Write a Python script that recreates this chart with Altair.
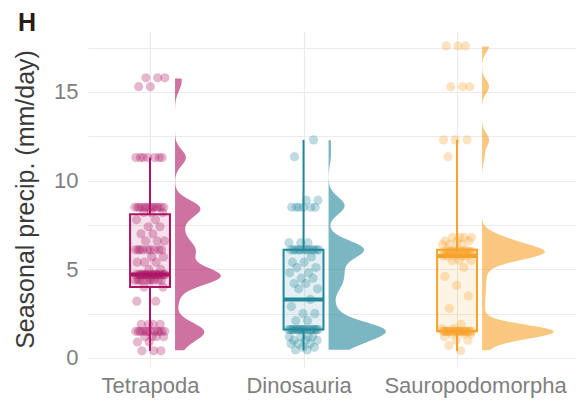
import altair as alt
import pandas as pd

# ---------------- data ----------------
categories = ["Tetrapoda", "Dinosauria", "Sauropodomorpha"]
colors = ["#AD1464", "#23879A", "#F7A22B"]

tetrapoda_levels = [0.4, 0.9, 1.2, 1.5, 1.9, 3.2, 4.0, 4.4, 4.7, 5.0, 5.4, 5.7, 6.1,
                    6.6, 7.0, 7.4, 7.8, 8.2, 8.5, 11.3, 15.3, 15.8]
tetrapoda_counts = [3, 2, 4, 12, 4, 2, 2, 10, 18, 2, 3, 2, 9,
                    3, 2, 2, 2, 3, 13, 7, 2, 3]

dinosauria_levels = [0.45, 0.6, 0.8, 1.0, 1.2, 1.6, 2.1, 2.5, 2.9, 3.3, 3.9, 4.2,
                     4.5, 4.8, 5.1, 5.4, 5.7, 6.1, 6.5, 8.5, 8.9, 11.35, 12.3]
dinosauria_counts = [2, 2, 3, 3, 4, 20, 2, 2, 1, 1, 2, 2,
                     2, 2, 2, 2, 1, 13, 3, 6, 2, 1, 1]

sauropodomorpha_levels = [0.4, 0.7, 1.0, 1.2, 1.35, 1.5, 1.65, 1.9, 2.8, 3.5, 4.1, 4.6,
                          5.1, 5.5, 5.75, 5.9, 6.0, 6.1, 6.4, 6.6, 6.8, 11.35, 12.3,
                          15.3, 17.6]
sauropodomorpha_counts = [1, 1, 2, 1, 3, 24, 2, 1, 1, 1, 1, 1,
                          1, 3, 5, 4, 11, 4, 3, 3, 4, 1, 3,
                          3, 3]

y_ticks = [0, 2.5, 5, 7.5, 10, 12.5, 15, 17.5]
y_title = "Seasonal precip. (mm/day)"
panel_label = "H"

# ---------------- build table ----------------
group_levels = [tetrapoda_levels, dinosauria_levels, sauropodomorpha_levels]
group_counts = [tetrapoda_counts, dinosauria_counts, sauropodomorpha_counts]
rows = []
for i, (g, lv, ct) in enumerate(zip(categories, group_levels, group_counts)):
    for v, c in zip(lv, ct):
        for _ in range(c):
            rows.append({"group": g, "idx": i + 1, "value": v})
df = pd.DataFrame(rows)

# ---------------- style ----------------
FONT = "Liberation Sans"
bandwidths = [0.45, 0.45, 0.38]
violin_gap = 0.163
violin_scale = 1.25
box_half = 0.13
jitter_half = 0.1

xscale = alt.Scale(domain=[0.596, 3.775], nice=False, zero=False)
yscale = alt.Scale(domain=[-0.51, 18.44], nice=False, zero=False)
color_scale = alt.Scale(domain=categories, range=colors)

label_expr = "".join(
    f"datum.value == {i + 1} ? '{c}' : " for i, c in enumerate(categories)
) + "''"

xaxis = alt.Axis(
    values=[1, 2, 3], labelExpr=label_expr, title=None,
    grid=True, gridColor="#EBEBEB", gridWidth=1.2,
    domain=False, ticks=False, labelLimit=0,
    labelFont=FONT, labelFontSize=22, labelColor="#7F7F7F", labelPadding=8,
    labelOffset={"condition": [{"test": "datum.value == 2", "value": -5},
                               {"test": "datum.value == 3", "value": 18}],
                 "value": 0},
)
yaxis = alt.Axis(
    values=y_ticks, labelExpr="datum.value % 5 == 0 ? datum.label : ''",
    grid=True, gridColor="#EBEBEB", gridWidth=1,
    domain=False, ticks=False,
    labelFont=FONT, labelFontSize=22, labelColor="#7F7F7F", labelPadding=10,
    title=y_title, titleFont=FONT, titleFontSize=25, titleFontWeight="normal",
    titleColor="#3A3A3A", titleAngle=-90, titleX=-55, titleY=168,
    titleAlign="center", titleBaseline="alphabetic",
)


def xenc(field):
    return alt.X(f"{field}:Q", scale=xscale, axis=xaxis)


def yenc(field):
    return alt.Y(f"{field}:Q", scale=yscale, axis=yaxis)


col = alt.Color("group:N", scale=color_scale, legend=None)

base = alt.Chart(df)

# half violins
violins = []
for i, g in enumerate(categories):
    v = (
        base.transform_filter(alt.datum.group == g)
        .transform_joinaggregate(vmin="min(value)", vmax="max(value)", groupby=["group"])
        .transform_density("value", as_=["value", "density"],
                           groupby=["group", "idx", "vmin", "vmax"],
                           bandwidth=bandwidths[i], extent=[0, 18], steps=500)
        .transform_filter("datum.value >= datum.vmin && datum.value <= datum.vmax")
        .transform_calculate(
            xb=f"datum.idx + {violin_gap}",
            xe=f"datum.idx + {violin_gap} + datum.density * {violin_scale}",
        )
        .mark_area(orient="horizontal", opacity=0.6)
        .encode(y=yenc("value"), x=xenc("xb"), x2="xe:Q", color=col)
    )
    violins.append(v)

# jittered points (deterministic low-discrepancy jitter)
pts = (
    base.transform_window(rn="row_number()", groupby=["group"])
    .transform_calculate(
        xj=f"datum.idx + (((datum.rn * 0.6180339887) % 1) - 0.5) * {2 * jitter_half}"
    )
    .mark_circle(size=85, opacity=0.3)
    .encode(x=xenc("xj"), y=yenc("value"), color=col)
)

# box
box = base.transform_aggregate(
    q1="q1(value)", q3="q3(value)", med="median(value)", groupby=["group", "idx"]
).transform_calculate(xl=f"datum.idx - {box_half}", xr=f"datum.idx + {box_half}")

rect = box.mark_rect(fillOpacity=0.12, strokeWidth=2).encode(
    x=xenc("xl"), x2="xr:Q", y=yenc("q1"), y2="q3:Q",
    fill=alt.Fill("group:N", scale=color_scale, legend=None),
    stroke=alt.Stroke("group:N", scale=color_scale, legend=None),
)
median = box.mark_rule(strokeWidth=4).encode(
    x=xenc("xl"), x2="xr:Q", y=yenc("med"), color=col
)

# whiskers (1.5 IQR)
wh = (
    base.transform_joinaggregate(q1="q1(value)", q3="q3(value)", groupby=["group"])
    .transform_calculate(
        lo="datum.q1 - 1.5 * (datum.q3 - datum.q1)",
        hi="datum.q3 + 1.5 * (datum.q3 - datum.q1)",
    )
    .transform_filter("datum.value >= datum.lo && datum.value <= datum.hi")
    .transform_aggregate(wmin="min(value)", wmax="max(value)", q1="min(q1)",
                         q3="min(q3)", groupby=["group", "idx"])
)
lower = wh.mark_rule(strokeWidth=2).encode(x=xenc("idx"), y=yenc("wmin"), y2="q1:Q", color=col)
upper = wh.mark_rule(strokeWidth=2).encode(x=xenc("idx"), y=yenc("q3"), y2="wmax:Q", color=col)

htext = alt.Chart(pd.DataFrame({"label": [panel_label]})).mark_text(
    align="left", baseline="alphabetic", font=FONT, fontSize=25,
    fontWeight="bold", color="#2B1B12",
).encode(text="label:N", x=alt.value(-70), y=alt.value(-0.5))

chart = (
    alt.layer(*violins, pts, rect, lower, upper, median, htext)
    .properties(
        width=488, height=336,
        autosize=alt.AutoSizeParams(type="none"),
        padding={"left": 80, "top": 23, "right": 0, "bottom": 33},
        background="white",
    )
    .configure_view(stroke=None)
)

chart.save("out.html", embed_options={"renderer": "svg", "actions": False})
